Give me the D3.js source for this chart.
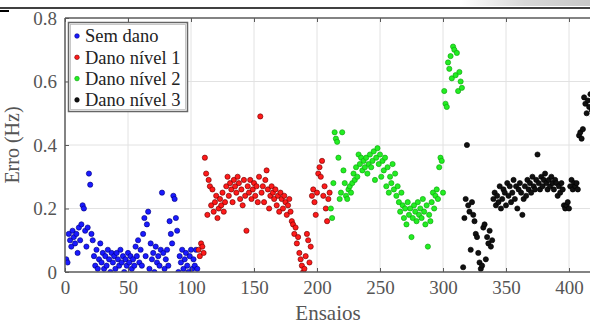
<!DOCTYPE html>
<html><head><meta charset="utf-8">
<script src="https://cdn.jsdelivr.net/npm/d3@7"></script>
<style>html,body{margin:0;padding:0;background:#fff;}svg{display:block;}</style>
</head><body>
<script>
const seriesNames = ["Sem dano", "Dano nível 1", "Dano nível 2", "Dano nível 3"];
const seriesColors = ["#1a1aff", "#ff1a1a", "#22ee22", "#111111"];
const seriesStroke = ["#000080", "#700000", "#10a010", "#000000"];
const seriesStart = [1, 106, 211, 316];

const semDano = [0.04,0.03,0.12,0.10,0.08,0.13,0.11,0.09,0.12,0.06,0.14,0.10,0.15,0.21,0.20,0.13,0.08,0.14,0.31,0.275,
0.12,0.10,0.05,0.02,0.07,0.01,0.04,0.09,0.03,0.06,0.01,0.05,0.02,0.07,0.04,0.0,0.06,0.03,0.05,0.01,
0.06,0.04,0.02,0.07,0.03,0.05,0.0,0.04,0.02,0.06,0.03,0.05,0.01,0.04,0.02,0.08,0.05,0.10,0.03,0.07,
0.02,0.12,0.17,0.05,0.15,0.19,0.01,0.09,0.04,0.06,0.0,0.08,0.03,0.05,0.02,0.07,0.25,0.06,0.01,0.04,
0.07,0.02,0.16,0.12,0.09,0.24,0.23,0.17,0.13,0.0,0.05,0.03,0.07,0.01,0.04,0.06,0.02,0.0,0.05,0.07,
0.01,0.04,0.02,0.07,0.01];

const danoNivel1 = [0.07,0.05,0.09,0.08,0.06,0.36,0.31,0.18,0.29,0.27,0.21,0.26,0.19,0.22,0.24,0.17,0.20,0.23,0.21,0.25,
0.19,0.22,0.27,0.30,0.24,0.28,0.26,0.22,0.29,0.27,0.25,0.30,0.28,0.23,0.26,0.21,0.29,0.24,0.13,0.27,
0.25,0.29,0.23,0.26,0.28,0.24,0.27,0.22,0.30,0.49,0.25,0.27,0.22,0.29,0.32,0.26,0.20,0.24,0.27,0.25,
0.23,0.26,0.21,0.24,0.19,0.25,0.23,0.20,0.24,0.22,0.18,0.21,0.23,0.19,0.16,0.15,0.12,0.14,0.09,0.11,
0.06,0.04,0.02,0.0,0.01,0.05,0.12,0.10,0.03,0.08,0.24,0.26,0.22,0.18,0.25,0.31,0.33,0.30,0.35,0.24,
0.27,0.20,0.16,0.23,0.25];

const danoNivel2 = [0.20,0.17,0.28,0.44,0.42,0.41,0.36,0.23,0.25,0.44,0.32,0.28,0.24,0.23,0.26,0.27,0.25,0.28,0.31,0.29,
0.33,0.30,0.37,0.34,0.36,0.32,0.35,0.33,0.36,0.31,0.34,0.37,0.33,0.35,0.38,0.29,0.36,0.39,0.34,0.37,
0.30,0.35,0.32,0.36,0.27,0.33,0.25,0.30,0.28,0.34,0.26,0.31,0.24,0.27,0.22,0.19,0.25,0.21,0.17,0.20,
0.15,0.22,0.18,0.20,0.11,0.17,0.21,0.19,0.16,0.22,0.18,0.20,0.17,0.23,0.19,0.15,0.21,0.08,0.18,0.16,
0.22,0.25,0.20,0.24,0.26,0.23,0.33,0.36,0.35,0.25,0.57,0.53,0.52,0.66,0.64,0.68,0.61,0.71,0.70,0.62,
0.69,0.57,0.63,0.60,0.58];

const danoNivel3 = [0.015,0.17,0.23,0.40,0.21,0.19,0.07,0.22,0.18,0.16,0.12,0.11,0.06,0.03,0.01,0.02,0.14,0.15,0.04,0.11,
0.09,0.13,0.08,0.10,0.23,0.25,0.21,0.24,0.22,0.27,0.20,0.23,0.26,0.25,0.21,0.28,0.24,0.27,0.22,0.25,
0.29,0.23,0.27,0.20,0.26,0.28,0.25,0.18,0.23,0.27,0.24,0.29,0.26,0.28,0.25,0.30,0.27,0.26,0.29,0.37,
0.28,0.26,0.30,0.27,0.29,0.31,0.28,0.26,0.29,0.27,0.30,0.28,0.26,0.29,0.28,0.24,0.27,0.25,0.28,0.26,
0.21,0.20,0.21,0.22,0.20,0.27,0.29,0.26,0.28,0.27,0.28,0.26,0.43,0.44,0.42,0.45,0.55,0.53,0.50,0.54,
0.52,0.56,0.51,0.49,0.53];

const allSeries = [semDano, danoNivel1, danoNivel2, danoNivel3];
const xTicks = [0, 50, 100, 150, 200, 250, 300, 350, 400];
const yTicks = [0, 0.2, 0.4, 0.6, 0.8];
const yTickLabels = ["0", "0.2", "0.4", "0.6", "0.8"];
const xLabel = "Ensaios";
const yLabel = "Erro (Hz)";

(function () {
const W = 590, H = 325;
const pL = 65, pT = 18, pB = 272;
const svg = d3.select("body").append("svg").attr("width", W).attr("height", H);

// page decorations
const defs = svg.append("defs");
const grad = defs.append("linearGradient").attr("id","tg");
grad.append("stop").attr("offset","0").attr("stop-color","#ffffff");
grad.append("stop").attr("offset","0.5").attr("stop-color","#d8d8d8");
grad.append("stop").attr("offset","1").attr("stop-color","#c8c8c8");
svg.append("rect").attr("x",460).attr("y",0).attr("width",130).attr("height",6).attr("fill","url(#tg)");
svg.append("line").attr("x1",0).attr("x2",W).attr("y1",8).attr("y2",8).attr("stroke","#000").attr("stroke-width",1.3);
svg.append("line").attr("x1",0).attr("x2",9).attr("y1",11).attr("y2",11).attr("stroke","#000").attr("stroke-width",2);

const x = d3.scaleLinear().domain([0, 400]).range([pL, 569]);
const y = d3.scaleLinear().domain([0, 0.8]).range([pB, pT]);
const pR = W + 5;

defs.append("clipPath").attr("id","pc")
  .append("rect").attr("x", pL).attr("y", pT).attr("width", pR-pL).attr("height", pB-pT);

// grid
const grid = svg.append("g");
grid.selectAll(".gx").data(xTicks.slice(1)).join("line")
  .attr("x1", d=>x(d)).attr("x2", d=>x(d)).attr("y1", pT).attr("y2", pB)
  .attr("stroke", "#e2e2e2").attr("stroke-width", 1);
grid.selectAll(".gy").data(yTicks.slice(1, -1)).join("line")
  .attr("x1", pL).attr("x2", pR).attr("y1", d=>y(d)).attr("y2", d=>y(d))
  .attr("stroke", "#e2e2e2").attr("stroke-width", 1);

// points
const pts = svg.append("g").attr("clip-path","url(#pc)");
allSeries.forEach((vals, s) => {
  pts.append("g").selectAll("circle").data(vals).join("circle")
    .attr("cx", (d,i)=>x(seriesStart[s]+i)).attr("cy", d=>y(d)).attr("r", 2.6)
    .attr("fill", seriesColors[s]).attr("stroke", seriesStroke[s]).attr("stroke-width", 0.8)
    .attr("stroke-opacity", 0.8);
});

// axes frame
const axCol = "#5a5a5a";
svg.append("line").attr("x1",pL).attr("x2",pR).attr("y1",pT).attr("y2",pT).attr("stroke",axCol).attr("stroke-width",1.5);
svg.append("line").attr("x1",pL).attr("x2",pR).attr("y1",pB).attr("y2",pB).attr("stroke",axCol).attr("stroke-width",1.5);
svg.append("line").attr("x1",pL).attr("x2",pL).attr("y1",pT).attr("y2",pB).attr("stroke",axCol).attr("stroke-width",1.5);

// x axis
const xAxis = d3.axisBottom(x).tickValues(xTicks).tickSize(-4).tickPadding(9).tickFormat(d3.format("d"));
const gx = svg.append("g").attr("transform", `translate(0,${pB})`).call(xAxis);
gx.select(".domain").remove();
gx.selectAll("line").attr("stroke", axCol);
gx.selectAll("text").attr("font-family","'Liberation Serif', serif").attr("font-size",19).attr("fill","#555");
const xTop = d3.axisTop(x).tickValues(xTicks).tickSize(-4).tickFormat("");
const gxt = svg.append("g").attr("transform", `translate(0,${pT})`).call(xTop);
gxt.select(".domain").remove();
gxt.selectAll("line").attr("stroke", axCol);

// y axis
const yAxis = d3.axisLeft(y).tickValues(yTicks).tickSize(-4).tickPadding(8).tickFormat((d,i)=>yTickLabels[i]);
const gy = svg.append("g").attr("transform", `translate(${pL},0)`).call(yAxis);
gy.select(".domain").remove();
gy.selectAll("line").attr("stroke", axCol);
gy.selectAll("text").attr("font-family","'Liberation Serif', serif").attr("font-size",19).attr("fill","#555");

// axis labels
svg.append("text").attr("x", 328).attr("y", 320).attr("text-anchor","middle")
  .attr("font-family","'Liberation Serif', serif").attr("font-size",21).attr("fill","#555").text(xLabel);
svg.append("text").attr("transform", `translate(19,${(pT+pB)/2}) rotate(-90)`).attr("text-anchor","middle")
  .attr("font-family","'Liberation Serif', serif").attr("font-size",20).attr("fill","#555").text(yLabel);

// legend
const lg = svg.append("g");
lg.append("rect").attr("x",68.5).attr("y",22.5).attr("width",119).attr("height",89)
  .attr("fill","#fff").attr("stroke","#666").attr("stroke-width",1.5);
lg.append("rect").attr("x",70.5).attr("y",24.5).attr("width",115).attr("height",85)
  .attr("fill","none").attr("stroke","#bbb").attr("stroke-width",0.8);
seriesNames.forEach((n, i) => {
  const cy = 36 + i*21.3;
  lg.append("circle").attr("cx",77).attr("cy",cy).attr("r",2.3)
    .attr("fill",seriesColors[i]).attr("stroke",seriesStroke[i]).attr("stroke-width",0.6);
  lg.append("text").attr("x",85).attr("y",cy).attr("dy","0.35em")
    .attr("font-family","'Liberation Serif', serif").attr("font-size",18.5).attr("fill","#222").text(n);
});
})();
</script>
</body></html>
